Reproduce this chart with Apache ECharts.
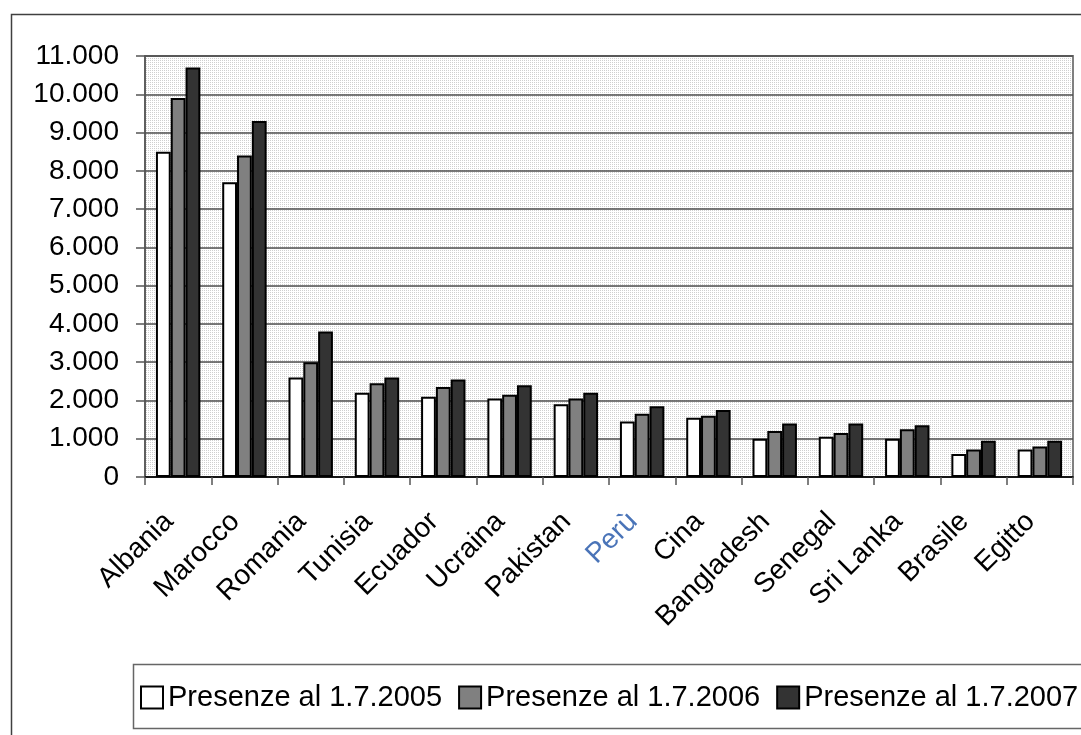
<!DOCTYPE html>
<html>
<head>
<meta charset="utf-8">
<script src="https://cdn.jsdelivr.net/npm/echarts@6/dist/echarts.min.js"></script>
<style>
html,body{margin:0;padding:0;background:#fff;}
#c{width:1081px;height:735px;}
</style>
</head>
<body>
<div id="c"></div>
<script>
var categories = ['Albania','Marocco','Romania','Tunisia','Ecuador','Ucraina','Pakistan','Perù','Cina','Bangladesh','Senegal','Sri Lanka','Brasile','Egitto'];
var seriesNames = ['Presenze al 1.7.2005','Presenze al 1.7.2006','Presenze al 1.7.2007'];
var values2005 = [8500, 7700, 2600, 2200, 2100, 2050, 1900, 1450, 1550, 1000, 1050, 1000, 600, 720];
var values2006 = [9900, 8400, 3000, 2450, 2350, 2150, 2050, 1650, 1600, 1200, 1150, 1250, 720, 800];
var values2007 = [10700, 9300, 3800, 2600, 2550, 2400, 2200, 1850, 1750, 1400, 1400, 1350, 950, 950];

var chart = echarts.init(document.getElementById('c'));
var FONT = '"Liberation Sans", Arial, sans-serif';
var colors = ['#ffffff', '#808080', '#333333'];

var pc = document.createElement('canvas');
pc.width = 2; pc.height = 2;
var pctx = pc.getContext('2d');
pctx.fillStyle = '#ffffff'; pctx.fillRect(0, 0, 2, 2);
pctx.fillStyle = '#cfcfcf'; pctx.fillRect(0, 0, 1, 1);
var bgPattern = { image: pc, repeat: 'repeat' };

function mk(name, data, color) {
  return {
    name: name, type: 'bar', data: data,
    barGap: '0%', barCategoryGap: '33%',
    itemStyle: { color: color, borderColor: '#000', borderWidth: 2 },
    emphasis: { disabled: true }
  };
}
chart.setOption({
  animation: false,
  textStyle: { fontFamily: FONT },
  graphic: [
    { type: 'rect', left: 9, top: 12, shape: { width: 1200, height: 900 }, style: { fill: 'none', stroke: '#404040', lineWidth: 1.5 }, z: -10 },
    { type: 'rect', left: 131, top: 662, shape: { width: 1100, height: 64 }, style: { fill: 'none', stroke: '#666666', lineWidth: 1.5 }, z: -10 }
  ],
  grid: { left: 145, top: 56, right: 8, bottom: 258, show: true, backgroundColor: bgPattern, borderColor: '#808080', borderWidth: 2 },
  legend: {
    data: seriesNames, left: 140, top: 683, padding: 0, itemGap: 16,
    itemWidth: 22, itemHeight: 22, icon: 'rect',
    textStyle: { fontSize: 29, color: '#000', fontFamily: FONT }
  },
  xAxis: {
    type: 'category', data: categories,
    axisLine: { lineStyle: { color: '#000', width: 1.5 } },
    axisTick: { show: true, length: 8, lineStyle: { color: '#555', width: 1.5 } },
    axisLabel: {
      rotate: 45, interval: 0, margin: 31, fontSize: 28, color: '#000', fontFamily: FONT,
      padding: [0, 13, 0, 0],
      formatter: function (v) { return v === 'Perù' ? '{p|' + v + '}' : v; },
      rich: { p: { color: '#4a74b8', fontSize: 28, fontFamily: FONT } }
    }
  },
  yAxis: {
    type: 'value', min: 0, max: 11000, interval: 1000,
    axisLine: { show: true, lineStyle: { color: '#555', width: 1.5 } },
    axisTick: { show: true, length: 9, lineStyle: { color: '#555', width: 1.5 } },
    splitLine: { lineStyle: { color: '#4d4d4d', width: 1.5 } },
    axisLabel: {
      margin: 26, fontSize: 28, color: '#000', fontFamily: FONT,
      formatter: function (v) { return String(v).replace(/\B(?=(\d{3})+(?!\d))/g, '.'); }
    }
  },
  series: [
    mk(seriesNames[0], values2005, colors[0]),
    mk(seriesNames[1], values2006, colors[1]),
    mk(seriesNames[2], values2007, colors[2])
  ]
});
</script>
</body>
</html>
